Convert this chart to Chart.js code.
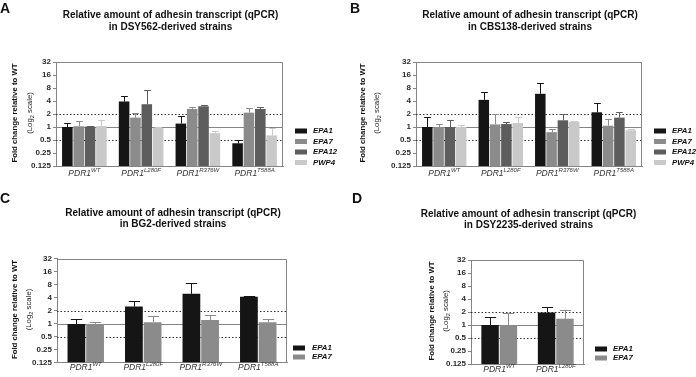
<!DOCTYPE html>
<html>
<head>
<meta charset="utf-8">
<script src="https://cdn.jsdelivr.net/npm/chart.js@4.4.0/dist/chart.umd.min.js"></script>
<style>
  body { margin: 0; background: #fff; }
  #page { position: relative; width: 696px; height: 377px; overflow: hidden; }
  .panel { position: absolute; width: 348px; }
</style>
</head>
<body>
<div id="page">
  <div class="panel" style="left:0;top:0;height:188px"><canvas id="cA"></canvas></div>
  <div class="panel" style="left:348px;top:0;height:188px"><canvas id="cB"></canvas></div>
  <div class="panel" style="left:0;top:188px;height:189px"><canvas id="cC"></canvas></div>
  <div class="panel" style="left:348px;top:188px;height:189px"><canvas id="cD"></canvas></div>
</div>
<script>
// categories / series
const strains = ['WT', 'L280F', 'R376W', 'T588A'];
const strainsD = ['WT', 'L280F'];
const genes4 = ['EPA1', 'EPA7', 'EPA12', 'PWP4'];
const genes2 = ['EPA1', 'EPA7'];
const yTicks = [0.125, 0.25, 0.5, 1, 2, 4, 8, 16, 32];

// fold change (mean) and top of error bar, one row per gene
const dsy562Mean  = [[1.0, 3.9, 1.2, 0.42], [1.04, 1.65, 2.62, 2.15], [1.02, 3.37, 3.02, 2.62], [1.05, 0.96, 0.72, 0.64]];
const dsy562Upper = [[1.26, 5.2, 1.8, 0.51], [1.4, 2.15, 2.87, 2.77], [1.05, 7.2, 3.19, 2.87], [1.43, 1.0, 0.82, 0.95]];
const cbs138Mean  = [[1.0, 4.25, 5.87, 2.19], [1.0, 1.15, 0.76, 1.07], [1.0, 1.17, 1.43, 1.65], [1.0, 1.24, 1.33, 0.84]];
const cbs138Upper = [[1.68, 6.4, 10.4, 3.68], [1.15, 1.97, 0.88, 1.53], [1.43, 1.28, 2.04, 2.19], [1.09, 1.68, 1.35, 0.88]];
const bg2Mean  = [[0.97, 2.47, 4.86, 4.14], [0.98, 1.07, 1.2, 1.07]];
const bg2Upper = [[1.3, 3.4, 8.9, 4.45], [1.11, 1.53, 1.59, 1.24]];
const dsy2235Mean  = [[1.0, 1.95], [0.98, 1.4]];
const dsy2235Upper = [[1.55, 2.59], [1.85, 2.25]];

const FONT = "'Liberation Sans', Arial, sans-serif";
const geneColors = { EPA1: '#151515', EPA7: '#8b8b8b', EPA12: '#5d5d5d', PWP4: '#c9c9c9' };
const frameColor = '#858585';

// draws pieces of text one after the other, centred on x
function drawParts(ctx, parts, x, baseline) {
  let total = 0;
  parts.forEach(p => { ctx.font = p.font; p.w = ctx.measureText(p.text).width; total += p.w; });
  let cx = x - total / 2;
  ctx.textAlign = 'left';
  ctx.textBaseline = 'alphabetic';
  parts.forEach(p => { ctx.font = p.font; ctx.fillText(p.text, cx, baseline + (p.dy || 0)); cx += p.w; });
}

function panelDecor(cfg) {
  return {
    id: 'decor',
    beforeDatasetsDraw(chart) {
      const { ctx, chartArea: a, scales: { y } } = chart;
      ctx.save();
      ctx.lineWidth = 1;
      // solid line at 1
      let py = Math.round(y.getPixelForValue(1)) + 0.5;
      ctx.strokeStyle = frameColor;
      ctx.beginPath(); ctx.moveTo(a.left, py); ctx.lineTo(a.right, py); ctx.stroke();
      // dotted lines at 2 and 0.5
      ctx.strokeStyle = '#333';
      ctx.setLineDash([1.5, 2]);
      [2, 0.5].forEach(v => {
        py = Math.round(y.getPixelForValue(v)) + 0.5;
        ctx.beginPath(); ctx.moveTo(a.left, py); ctx.lineTo(a.right, py); ctx.stroke();
      });
      ctx.restore();
    },
    afterDatasetsDraw(chart) {
      const { ctx, chartArea: a, scales: { y } } = chart;
      ctx.save();
      ctx.lineWidth = 1;
      // error bars (upper half only)
      chart.data.datasets.forEach((ds, k) => {
        const meta = chart.getDatasetMeta(k);
        ctx.strokeStyle = ds.backgroundColor;
        meta.data.forEach((bar, i) => {
          const top = y.getPixelForValue(ds.upper[i]);
          const x = Math.round(bar.x) + 0.5;
          const cap = bar.width * 0.32;
          const ty = Math.round(top) + 0.5;
          ctx.beginPath();
          ctx.moveTo(x, bar.y); ctx.lineTo(x, ty);
          ctx.moveTo(x - cap, ty); ctx.lineTo(x + cap, ty);
          ctx.stroke();
        });
      });
      // frame on top and right
      ctx.strokeStyle = frameColor;
      ctx.beginPath();
      ctx.moveTo(a.left, Math.round(a.top) + 0.5);
      ctx.lineTo(Math.round(a.right) - 0.5, Math.round(a.top) + 0.5);
      ctx.lineTo(Math.round(a.right) - 0.5, a.bottom);
      ctx.stroke();
      ctx.restore();
    },
    afterDraw(chart) {
      const { ctx, chartArea: a, scales: { x } } = chart;
      ctx.save();
      ctx.fillStyle = '#111';
      // panel letter
      ctx.font = 'bold 14px ' + FONT;
      ctx.textAlign = 'left'; ctx.textBaseline = 'alphabetic';
      ctx.fillText(cfg.letter, cfg.letterPos[0], cfg.letterPos[1]);
      // title
      ctx.font = 'bold 10px ' + FONT;
      ctx.textAlign = 'center'; ctx.textBaseline = 'middle';
      const mid = (a.left + a.right) / 2 + 1;
      ctx.fillText('Relative amount of adhesin transcript (qPCR)', mid, cfg.titleY[0]);
      ctx.fillText(cfg.subtitle, mid, cfg.titleY[1]);
      // y axis title
      const cy = (a.top + a.bottom) / 2 - 1;
      ctx.save();
      ctx.translate(cfg.yTitleX[0], cy); ctx.rotate(-Math.PI / 2);
      ctx.font = 'bold 7.8px ' + FONT;
      ctx.textAlign = 'center'; ctx.textBaseline = 'middle';
      ctx.fillText('Fold change relative to WT', 0, 0);
      ctx.restore();
      ctx.save();
      ctx.translate(cfg.yTitleX[1], cy); ctx.rotate(-Math.PI / 2);
      ctx.fillStyle = '#222';
      drawParts(ctx, [
        { text: '(Log', font: '7.8px ' + FONT },
        { text: '2', font: '5.5px ' + FONT, dy: 2 },
        { text: ' scale)', font: '7.8px ' + FONT }
      ], 0, 2.8);
      ctx.restore();
      // category labels
      ctx.fillStyle = '#333';
      cfg.strains.forEach((s, i) => {
        drawParts(ctx, [
          { text: 'PDR1', font: 'italic 8.5px ' + FONT },
          { text: s, font: 'italic 6px ' + FONT, dy: -3.6 }
        ], x.getPixelForValue(i), cfg.labelY + 3);
      });
      // legend
      const L = cfg.legend;
      cfg.genes.forEach((g, k) => {
        ctx.fillStyle = geneColors[g];
        ctx.fillRect(L.x, L.rows[k] - 2.5, 12, 5);
        ctx.fillStyle = '#111';
        ctx.font = 'italic bold 7.8px ' + FONT;
        ctx.textAlign = 'left'; ctx.textBaseline = 'middle';
        ctx.fillText(g, L.textX, L.rows[k]);
      });
      ctx.restore();
    }
  };
}

function makePanel(id, cfg) {
  const a = cfg.area;
  const datasets = cfg.genes.map((g, k) => ({
    label: g,
    data: cfg.mean[k],
    upper: cfg.upper[k],
    backgroundColor: geneColors[g],
    borderWidth: 0,
    categoryPercentage: cfg.catPct,
    barPercentage: cfg.barPct
  }));
  new Chart(document.getElementById(id), {
    type: 'bar',
    data: { labels: cfg.strains, datasets: datasets },
    options: {
      responsive: true,
      maintainAspectRatio: false,
      animation: false,
      devicePixelRatio: 1,
      layout: { padding: { left: 0, top: a.t, right: 348 - a.r, bottom: 0 } },
      plugins: { legend: { display: false }, tooltip: { enabled: false }, title: { display: false } },
      scales: {
        x: {
          type: 'category',
          ticks: { display: false },
          grid: { display: false },
          border: { color: frameColor },
          afterFit(s) { s.height = cfg.h - a.b; }
        },
        y: {
          type: 'logarithmic',
          min: 0.125,
          max: 32,
          afterBuildTicks(s) { s.ticks = yTicks.map(v => ({ value: v })); },
          ticks: {
            autoSkip: false,
            padding: 2,
            color: '#2a2a2a',
            font: { family: FONT, size: 8, weight: 'bold' },
            callback: v => String(v)
          },
          grid: { drawOnChartArea: false, drawTicks: true, tickLength: 3, color: frameColor },
          border: { color: frameColor },
          afterFit(s) { s.width = a.l; }
        }
      }
    },
    plugins: [panelDecor(cfg)]
  });
}

makePanel('cA', {
  letter: 'A', letterPos: [0, 13], subtitle: 'in DSY562-derived strains', titleY: [15.5, 27],
  h: 188, area: { l: 56, r: 283, t: 62, b: 166 }, yTitleX: [15, 29], labelY: 173,
  strains: strains, genes: genes4, mean: dsy562Mean, upper: dsy562Upper,
  catPct: 0.8, barPct: 0.93,
  legend: { x: 295, textX: 313, rows: [131, 141.5, 152, 162.5] }
});
makePanel('cB', {
  letter: 'B', letterPos: [2, 12.5], subtitle: 'in CBS138-derived strains', titleY: [15.5, 27.5],
  h: 188, area: { l: 68, r: 294, t: 62, b: 166 }, yTitleX: [15, 28], labelY: 173,
  strains: strains, genes: genes4, mean: cbs138Mean, upper: cbs138Upper,
  catPct: 0.8, barPct: 0.93,
  legend: { x: 306, textX: 324, rows: [131, 141.5, 152, 162.5] }
});
makePanel('cC', {
  letter: 'C', letterPos: [0, 15], subtitle: 'in BG2-derived strains', titleY: [25.5, 36.5],
  h: 189, area: { l: 57, r: 287, t: 70.5, b: 174.5 }, yTitleX: [15, 28], labelY: 179,
  strains: strains, genes: genes2, mean: bg2Mean, upper: bg2Upper,
  catPct: 0.65, barPct: 0.95,
  legend: { x: 293, textX: 312, rows: [160, 169] }
});
makePanel('cD', {
  letter: 'D', letterPos: [4, 15], subtitle: 'in DSY2235-derived strains', titleY: [26.5, 37.5],
  h: 189, area: { l: 123, r: 236, t: 72, b: 176 }, yTitleX: [84, 97], labelY: 181,
  strains: strainsD, genes: genes2, mean: dsy2235Mean, upper: dsy2235Upper,
  catPct: 0.65, barPct: 0.95,
  legend: { x: 247, textX: 265, rows: [161, 170] }
});
</script>
</body>
</html>
